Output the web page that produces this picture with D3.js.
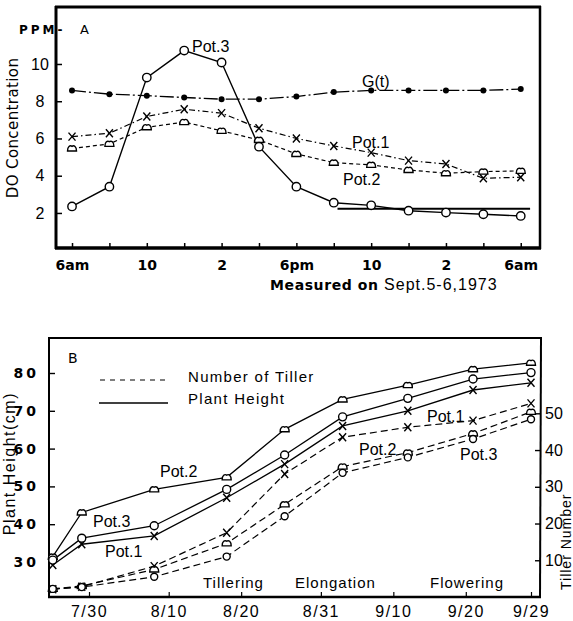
<!DOCTYPE html>
<html>
<head>
<meta charset="utf-8">
<script src="https://cdn.jsdelivr.net/npm/d3@7"></script>
<style>
  body { margin: 0; background: #fff; }
  svg { display: block; font-family: "Liberation Sans", Arial, sans-serif; }
</style>
</head>
<body>
<div id="chart"></div>
<script>
// ---------- Panel A data: DO concentration, every 2 hours, 6am to 6am ----------
var hoursA = [6, 8, 10, 12, 14, 16, 18, 20, 22, 24, 26, 28, 30];
var doGt   = [8.58, 8.38, 8.3, 8.2, 8.11, 8.11, 8.25, 8.49, 8.58, 8.58, 8.58, 8.58, 8.65];
var doPot1 = [6.1, 6.28, 7.18, 7.57, 7.36, 6.55, 6.0, 5.6, 5.24, 4.81, 4.63, 3.86, 3.92];
var doPot2 = [5.46, 5.71, 6.6, 6.88, 6.41, 5.92, 5.17, 4.7, 4.58, 4.31, 4.13, 4.22, 4.26];
var doPot3 = [2.35, 3.41, 9.27, 10.72, 10.08, 5.56, 3.41, 2.55, 2.41, 2.12, 2.02, 1.93, 1.84];
var pot3Level = 2.23;           // horizontal reference line
var pot3LevelHours = [20.2, 30.5];
var tickLabelsA = ["6am", "", "10", "", "2", "", "6pm", "", "10", "", "2", "", "6am"];
var yTicksA = [2, 4, 6, 8, 10];

// ---------- Panel B data: plant height (cm) and number of tiller ----------
var sampleDates = ["1973-07-25", "1973-07-29", "1973-08-08", "1973-08-18", "1973-08-26",
                   "1973-09-03", "1973-09-12", "1973-09-21", "1973-09-29"];
var heightPot1 = [29.2, 34.7, 36.9, 47.0, 55.9, 66.0, 70.0, 75.5, 77.4];
var heightPot2 = [31.4, 43.1, 49.2, 52.4, 65.1, 73.0, 76.8, 81.0, 82.7];
var heightPot3 = [30.5, 36.3, 39.6, 49.2, 58.3, 68.4, 73.3, 78.4, 80.1];
var tillerPot1 = [2.1, 2.8, 8.4, 17.5, 33.5, 43.5, 46.2, 48.0, 52.7];
var tillerPot2 = [2.2, 3.0, 7.5, 14.6, 25.2, 35.5, 39.3, 44.5, 50.4];
var tillerPot3 = [2.2, 2.7, 5.5, 11.0, 22.0, 33.8, 38.0, 43.0, 48.4];
var tickDatesB = ["1973-07-30", "1973-08-10", "1973-08-20", "1973-08-31", "1973-09-10", "1973-09-20", "1973-09-29"];
var tickLabelsB = ["7/30", "8/10", "8/20", "8/31", "9/10", "9/20", "9/29"];
var yTicksHeight = [30, 40, 50, 60, 70, 80];
var yTicksTiller = [10, 20, 30, 40, 50];

var parseDate = d3.timeParse("%Y-%m-%d");

var svg = d3.select("#chart").append("svg")
  .attr("width", 573)
  .attr("height", 621);

svg.append("rect").attr("width", 573).attr("height", 621).attr("fill", "#fff");

// marker helpers
function drawCircles(g, pts, r) {
  g.selectAll(null).data(pts).enter().append("circle")
    .attr("cx", d => d[0]).attr("cy", d => d[1]).attr("r", r)
    .attr("fill", "#fff").attr("stroke", "#000").attr("stroke-width", 1.4);
}
function drawCaps(g, pts) {
  // half-dome marker with a small point on top
  g.selectAll(null).data(pts).enter().append("path")
    .attr("transform", d => `translate(${d[0]},${d[1]})`)
    .attr("d", "M-4.5,2.5 C-4.5,-2 -2,-3.5 0,-2.2 C2,-3.5 4.5,-2 4.5,2.5 Z")
    .attr("fill", "#fff").attr("stroke", "#000").attr("stroke-width", 1.4);
}
function drawCrosses(g, pts) {
  g.selectAll(null).data(pts).enter().append("path")
    .attr("transform", d => `translate(${d[0]},${d[1]})`)
    .attr("d", "M-3.5,-4L3.5,4M3.5,-4L-3.5,4")
    .attr("fill", "none").attr("stroke", "#000").attr("stroke-width", 1.4);
}
function drawDots(g, pts) {
  g.selectAll(null).data(pts).enter().append("circle")
    .attr("cx", d => d[0]).attr("cy", d => d[1]).attr("r", 3)
    .attr("fill", "#000");
}

// =================== Panel A ===================
var xA = d3.scaleLinear().domain([5.09, 31.03]).range([55, 540]);
var yA = d3.scaleLinear().domain([0, 13.06]).range([250.2, 7]);
var lineA = d3.line().x(d => xA(d[0])).y(d => yA(d[1]));

var gA = svg.append("g");

// frame
gA.append("line").attr("x1", 55).attr("x2", 541).attr("y1", 7).attr("y2", 7)
  .attr("stroke", "#000").attr("stroke-width", 3);
gA.append("line").attr("x1", 56).attr("x2", 56).attr("y1", 6).attr("y2", 249)
  .attr("stroke", "#000").attr("stroke-width", 3);
gA.append("line").attr("x1", 540).attr("x2", 540).attr("y1", 6).attr("y2", 249)
  .attr("stroke", "#000").attr("stroke-width", 2.5);

// x axis
var xAxisA = d3.axisBottom(xA)
  .tickValues(hoursA)
  .tickSize(-5)
  .tickPadding(12)
  .tickFormat((d, i) => tickLabelsA[i]);
var gxA = gA.append("g").attr("transform", "translate(0,248)").call(xAxisA);
gxA.select(".domain").remove();
gxA.selectAll(".tick line").attr("stroke-width", 1.5);
gxA.selectAll(".tick text").attr("font-size", 14).attr("font-weight", "bold")
  .attr("font-family", "DejaVu Sans, sans-serif").attr("fill", "#000");
gA.append("line").attr("x1", 55).attr("x2", 541).attr("y1", 248).attr("y2", 248)
  .attr("stroke", "#000").attr("stroke-width", 3.5);

// y axis
var yAxisA = d3.axisLeft(yA).tickValues(yTicksA).tickSize(-6).tickPadding(9);
var gyA = gA.append("g").attr("transform", "translate(56,0)").call(yAxisA);
gyA.select(".domain").remove();
gyA.selectAll(".tick line").attr("stroke-width", 1.5);
gyA.selectAll(".tick text").attr("font-size", 16).attr("fill", "#000")
  .attr("text-anchor", "middle").attr("x", -16);

// series
var ptsGt = hoursA.map((h, i) => [h, doGt[i]]);
var ptsP1 = hoursA.map((h, i) => [h, doPot1[i]]);
var ptsP2 = hoursA.map((h, i) => [h, doPot2[i]]);
var ptsP3 = hoursA.map((h, i) => [h, doPot3[i]]);

gA.append("path").attr("d", lineA(ptsGt)).attr("fill", "none").attr("stroke", "#000")
  .attr("stroke-width", 1.3).attr("stroke-dasharray", "14,3,2,3");
gA.append("path").attr("d", lineA(ptsP1)).attr("fill", "none").attr("stroke", "#000")
  .attr("stroke-width", 1.2).attr("stroke-dasharray", "6,3,1.5,3");
gA.append("path").attr("d", lineA(ptsP2)).attr("fill", "none").attr("stroke", "#000")
  .attr("stroke-width", 1.2).attr("stroke-dasharray", "4,3");
gA.append("path").attr("d", lineA(ptsP3)).attr("fill", "none").attr("stroke", "#000")
  .attr("stroke-width", 1.4);
gA.append("path").attr("d", lineA(pot3LevelHours.map(h => [h, pot3Level])))
  .attr("fill", "none").attr("stroke", "#000").attr("stroke-width", 2);

drawDots(gA, ptsGt.map(d => [xA(d[0]), yA(d[1])]));
drawCrosses(gA, ptsP1.map(d => [xA(d[0]), yA(d[1])]));
drawCaps(gA, ptsP2.map(d => [xA(d[0]), yA(d[1])]));
drawCircles(gA, ptsP3.map(d => [xA(d[0]), yA(d[1])]), 4.2);

// labels
gA.append("text").attr("x", 19).attr("y", 34).attr("font-size", 12).attr("font-weight", "bold")
  .attr("letter-spacing", 3).attr("font-family", "DejaVu Sans, sans-serif").text("PPM-");
gA.append("text").attr("x", 80).attr("y", 34).attr("font-size", 13)
  .attr("font-family", "DejaVu Sans, sans-serif").text("A");
gA.append("text").attr("transform", "translate(18,128) rotate(-90)")
  .attr("text-anchor", "middle").attr("font-size", 15).attr("letter-spacing", 0.4)
  .attr("font-family", "DejaVu Sans, sans-serif").text("DO Concentration");
gA.append("text").attr("x", 192).attr("y", 52).attr("font-size", 16).text("Pot.3");
gA.append("text").attr("x", 362).attr("y", 87).attr("font-size", 16).text("G(t)");
gA.append("text").attr("x", 352).attr("y", 148).attr("font-size", 16).text("Pot.1");
gA.append("text").attr("x", 343).attr("y", 185).attr("font-size", 16).text("Pot.2");
gA.append("text").attr("x", 270).attr("y", 290).attr("font-size", 14).attr("font-weight", "bold")
  .attr("font-family", "DejaVu Sans, sans-serif").attr("letter-spacing", 0.6)
  .text("Measured  on")
  .append("tspan").attr("font-weight", "normal").attr("font-size", 16)
  .attr("font-family", "Liberation Sans, sans-serif").attr("letter-spacing", 1)
  .text("  Sept.5-6,1973");

// =================== Panel B ===================
var xB = d3.scaleTime()
  .domain([parseDate("1973-07-30"), parseDate("1973-09-29")])
  .range([89, 531]);
var yH = d3.scaleLinear().domain([20.74, 89.26]).range([597, 338]);
var yT = d3.scaleLinear().domain([0, 70.5]).range([597, 338]);

var datesB = sampleDates.map(parseDate);
var gB = svg.append("g");

// frame
gB.append("line").attr("x1", 48).attr("x2", 542).attr("y1", 338).attr("y2", 338)
  .attr("stroke", "#000").attr("stroke-width", 2);
gB.append("line").attr("x1", 49).attr("x2", 49).attr("y1", 337).attr("y2", 598)
  .attr("stroke", "#000").attr("stroke-width", 2);
gB.append("line").attr("x1", 541).attr("x2", 540).attr("y1", 337).attr("y2", 598)
  .attr("stroke", "#000").attr("stroke-width", 2);

// x axis
var xAxisB = d3.axisBottom(xB)
  .tickValues(tickDatesB.map(parseDate))
  .tickSize(-5)
  .tickPadding(9)
  .tickFormat((d, i) => tickLabelsB[i]);
var gxB = gB.append("g").attr("transform", "translate(0,597)").call(xAxisB);
gxB.select(".domain").remove();
gxB.selectAll(".tick line").attr("stroke-width", 1.2);
gxB.selectAll(".tick text").attr("font-size", 16).attr("letter-spacing", 1.5).attr("fill", "#000");
gB.append("line").attr("x1", 48).attr("x2", 541).attr("y1", 597).attr("y2", 597)
  .attr("stroke", "#000").attr("stroke-width", 2.5);

// left y axis (plant height)
var yAxisH = d3.axisLeft(yH).tickValues(yTicksHeight).tickSize(-6).tickPadding(10);
var gyH = gB.append("g").attr("transform", "translate(49,0)").call(yAxisH);
gyH.select(".domain").remove();
gyH.selectAll(".tick line").attr("stroke-width", 1.4);
gyH.selectAll(".tick text").attr("font-size", 14).attr("font-weight", "bold")
  .attr("letter-spacing", 3).attr("font-family", "DejaVu Sans, sans-serif").attr("fill", "#000");

// right y axis (tiller number)
var yAxisT = d3.axisRight(yT).tickValues(yTicksTiller).tickSize(-6).tickPadding(4);
var gyT = gB.append("g").attr("transform", "translate(541,0)").call(yAxisT);
gyT.select(".domain").remove();
gyT.selectAll(".tick line").attr("stroke-width", 1.4);
gyT.selectAll(".tick text").attr("font-size", 16).attr("fill", "#000");

var lineH = d3.line().x(d => xB(d[0])).y(d => yH(d[1]));
var lineT = d3.line().x(d => xB(d[0])).y(d => yT(d[1]));

var hP1 = datesB.map((d, i) => [d, heightPot1[i]]);
var hP2 = datesB.map((d, i) => [d, heightPot2[i]]);
var hP3 = datesB.map((d, i) => [d, heightPot3[i]]);
var tP1 = datesB.map((d, i) => [d, tillerPot1[i]]);
var tP2 = datesB.map((d, i) => [d, tillerPot2[i]]);
var tP3 = datesB.map((d, i) => [d, tillerPot3[i]]);

[hP1, hP2, hP3].forEach(function (s) {
  gB.append("path").attr("d", lineH(s)).attr("fill", "none").attr("stroke", "#000").attr("stroke-width", 1.3);
});
[tP1, tP2, tP3].forEach(function (s) {
  gB.append("path").attr("d", lineT(s)).attr("fill", "none").attr("stroke", "#000")
    .attr("stroke-width", 1.2).attr("stroke-dasharray", "7,4");
});

drawCrosses(gB, hP1.map(d => [xB(d[0]), yH(d[1])]));
drawCaps(gB, hP2.map(d => [xB(d[0]), yH(d[1])]));
drawCircles(gB, hP3.map(d => [xB(d[0]), yH(d[1])]), 4);
drawCrosses(gB, tP1.map(d => [xB(d[0]), yT(d[1])]));
drawCaps(gB, tP2.map(d => [xB(d[0]), yT(d[1])]));
drawCircles(gB, tP3.map(d => [xB(d[0]), yT(d[1])]), 3.5);

// legend
gB.append("text").attr("x", 68).attr("y", 363).attr("font-size", 14)
  .attr("font-family", "DejaVu Sans, sans-serif").text("B");
gB.append("line").attr("x1", 100).attr("x2", 166).attr("y1", 380).attr("y2", 380)
  .attr("stroke", "#000").attr("stroke-width", 1.2).attr("stroke-dasharray", "5,5");
gB.append("line").attr("x1", 99).attr("x2", 168).attr("y1", 403).attr("y2", 403)
  .attr("stroke", "#000").attr("stroke-width", 1.4);
gB.append("text").attr("x", 188).attr("y", 382).attr("font-size", 15).attr("letter-spacing", 1.3)
  .text("Number of Tiller");
gB.append("text").attr("x", 188).attr("y", 404).attr("font-size", 15).attr("letter-spacing", 1.3)
  .text("Plant Height");

// series labels
gB.append("text").attr("x", 160).attr("y", 477).attr("font-size", 16).text("Pot.2");
gB.append("text").attr("x", 93).attr("y", 527).attr("font-size", 16).text("Pot.3");
gB.append("text").attr("x", 105).attr("y", 557).attr("font-size", 16).text("Pot.1");
gB.append("text").attr("x", 427).attr("y", 422).attr("font-size", 16).text("Pot.1");
gB.append("text").attr("x", 359).attr("y", 455).attr("font-size", 16).text("Pot.2");
gB.append("text").attr("x", 460).attr("y", 460).attr("font-size", 16).text("Pot.3");

// growth stages
gB.append("text").attr("x", 203).attr("y", 588).attr("font-size", 15).attr("letter-spacing", 1).text("Tillering");
gB.append("text").attr("x", 295).attr("y", 588).attr("font-size", 15).attr("letter-spacing", 1).text("Elongation");
gB.append("text").attr("x", 430).attr("y", 588).attr("font-size", 15).attr("letter-spacing", 1).text("Flowering");

// axis titles
gB.append("text").attr("transform", "translate(15,392) rotate(-90)")
  .attr("text-anchor", "end").attr("font-size", 16).attr("letter-spacing", 1.5)
  .text("Plant Height(cm)");
gB.append("text").attr("transform", "translate(571,590) rotate(-90)")
  .attr("text-anchor", "start").attr("font-size", 14).attr("letter-spacing", 1)
  .text("Tiller Number");
</script>
</body>
</html>
